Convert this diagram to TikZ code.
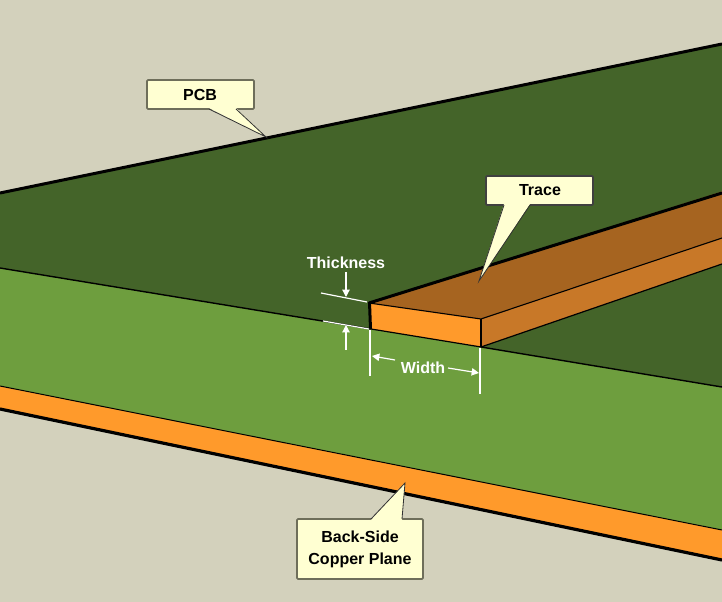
\documentclass[tikz,border=0pt]{standalone}
\usepackage{fontspec}
\setmainfont{Liberation Sans}
\usetikzlibrary{arrows.meta}
\definecolor{bgc}{HTML}{D3D1BC}
\definecolor{boardtop}{HTML}{446429}
\definecolor{boardside}{HTML}{6E9E3E}
\definecolor{copper}{HTML}{FF9A2B}
\definecolor{tracetop}{HTML}{A66420}
\definecolor{traceside}{HTML}{C87828}
\definecolor{calloutfill}{HTML}{FFFFD2}
\definecolor{calloutedge}{HTML}{6E6E5A}
\tikzset{
  px/.style={line width=#1*0.75pt},
  callout/.style={fill=calloutfill,draw=calloutedge,px=1.8,rounded corners=0.8pt},
  tailfill/.style={fill=calloutfill},
  tailedge/.style={draw=black!80,px=0.8},
  calltext/.style={font=\bfseries\fontsize{12}{16.5}\selectfont,align=center,text=black,inner sep=0pt},
  dimtext/.style={font=\bfseries\fontsize{12}{14}\selectfont,text=white,inner sep=0pt},
  dimline/.style={draw=white,px=1.2},
  dimarrow/.style={draw=white,px=1.2,-{Triangle[length=5.5pt,width=5.5pt]}},
}
\begin{document}
\begin{tikzpicture}[x=0.75pt,y=-0.75pt]
\useasboundingbox (0,0) rectangle (722,602);
\fill[bgc] (0,0) rectangle (722,602);
% board
\fill[boardtop] (0,193) -- (722,44) -- (722,387) -- (0,268) -- cycle;
\fill[boardside] (0,268) -- (722,387) -- (722,530) -- (0,386) -- cycle;
\fill[copper] (0,386) -- (722,530) -- (722,559) -- (0,409) -- cycle;
\draw[black,px=3] (0,193) -- (722,44);
\draw[black,px=1.4] (0,268) -- (371,329);
\draw[black,px=1.4] (481,347) -- (722,387);
\draw[black,px=1] (0,386) -- (722,530);
\draw[black,px=3.2] (0,409) -- (722,560);
% trace
\fill[traceside] (481,319) -- (722,238) -- (722,264) -- (481,347) -- cycle;
\fill[tracetop] (369,303) -- (722,191.5) -- (722,238) -- (481,319) -- cycle;
\fill[copper] (369,303) -- (481,319) -- (481,347) -- (371,329) -- cycle;
\draw[black,px=3] (369,303) -- (722,193);
\draw[black,px=1.1,line join=round] (369,303) -- (481,319) -- (722,238);
\draw[black,px=1.2] (481,319) -- (481,347);
\draw[black,px=1.2] (371,329) -- (481,347) -- (722,264);
\draw[black,px=3] (369.5,302) -- (370.5,329);
% dimensions
\coordinate (tla) at (321,293);
\coordinate (tlb) at (367,302);
\coordinate (bla) at (323,321);
\coordinate (blb) at (369,329);
\coordinate (wla) at (370,330);
\coordinate (wlb) at (370,376);
\coordinate (wra) at (480,348);
\coordinate (wrb) at (480,394);
\coordinate (ta) at (346,272);
\coordinate (tb) at (346,297);
\coordinate (ua) at (346,350);
\coordinate (ub) at (346,325);
\coordinate (wal) at (372,356);
\coordinate (war) at (479,373);
\coordinate (wbl) at (395,360);
\coordinate (wbr) at (448,368);
\draw[dimline] (tla) -- (tlb);
\draw[dimline] (bla) -- (blb);
\draw[dimline] (wla) -- (wlb);
\draw[dimline] (wra) -- (wrb);
\node[dimtext] (thick) at (346,263) {Thickness};
\node[dimtext] (width) at (423,367.5) {Width};
\draw[dimarrow] (ta) -- (tb);
\draw[dimarrow] (ua) -- (ub);
\draw[dimarrow] (wbl) -- (wal);
\draw[dimarrow] (wbr) -- (war);
% callouts
\draw[callout] (147,80) rectangle (254,109);
\fill[tailfill] (209,108) -- (266,137) -- (236,108) -- cycle;
\draw[tailedge] (209,109) -- (266,137) -- (236,109);
\node[calltext] (pcb) at (200,94.5) {PCB};
\draw[callout,draw=black!75] (486,176) rectangle (593,205);
\fill[tailfill] (504,204) -- (479,281) -- (530,204) -- cycle;
\draw[tailedge] (504,205) -- (479,281) -- (530,205);
\node[calltext] (trace) at (540,190.5) {Trace};
\draw[callout] (297,519) rectangle (423,579);
\fill[tailfill] (371,520) -- (405,483) -- (402,520) -- cycle;
\draw[tailedge] (371,519) -- (405,483) -- (402,519);
\node[calltext] (back) at (360,549.5) {Back-Side\\Copper Plane};
\end{tikzpicture}
\end{document}
